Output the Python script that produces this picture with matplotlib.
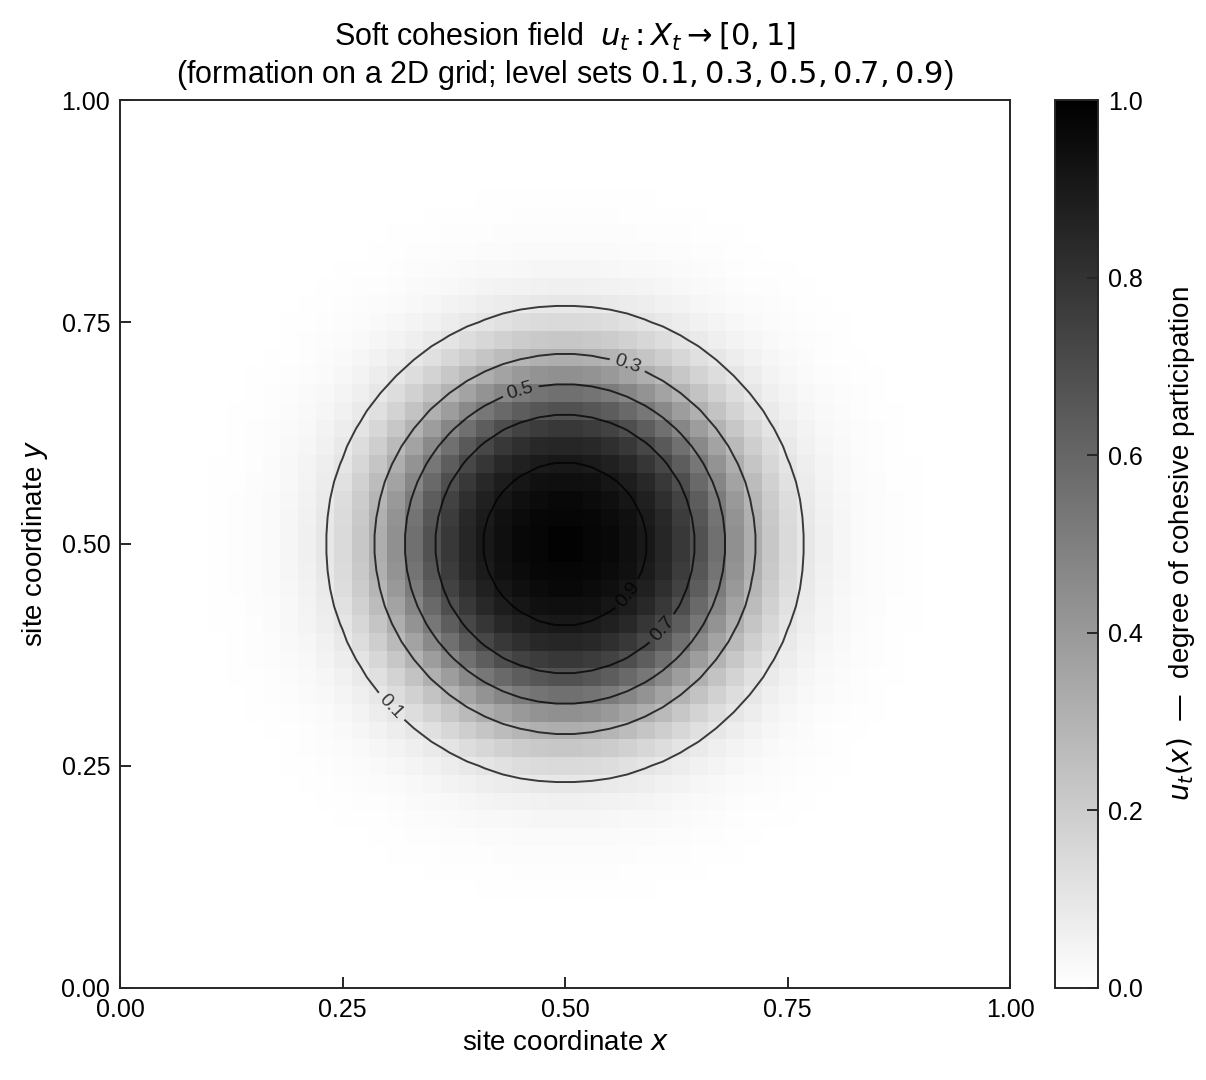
import numpy as np
import matplotlib
matplotlib.use("Agg")
import matplotlib.pyplot as plt

plt.rcParams['font.family'] = ['Liberation Sans', 'DejaVu Sans']
plt.rcParams['mathtext.fontset'] = 'dejavusans'

# field parameters (logistic profile around a centre)
n_cells = 50
centre = (0.5, 0.5)
half_radius = 0.18     # radius where u = 0.5
edge_width = 0.04      # softness of the edge
levels = [0.1, 0.3, 0.5, 0.7, 0.9]
xticks = [0.0, 0.25, 0.5, 0.75, 1.0]
cbar_ticks = [0.0, 0.2, 0.4, 0.6, 0.8, 1.0]

# label spots for the contour lines (data coords)
label_spots = [(0.306, 0.318), (0.571, 0.704), (0.449, 0.676), (0.609, 0.405), (0.570, 0.444)]

xs = (np.arange(n_cells) + 0.5) / n_cells
X, Y = np.meshgrid(xs, xs)
r = np.sqrt((X - centre[0])**2 + (Y - centre[1])**2)
u = 1.0 / (1.0 + np.exp((r - half_radius) / edge_width))

fig = plt.figure(figsize=(6.03, 5.4), dpi=200)
ax = fig.add_axes([0.0995, 0.0852, 0.738, 0.8222])
cax = fig.add_axes([0.8748, 0.0852, 0.0357, 0.8222])

im = ax.imshow(u, origin='lower', extent=[0, 1, 0, 1], cmap='gray_r',
               vmin=0, vmax=1, interpolation='nearest', aspect='auto')
cs = ax.contour(X, Y, u, levels=levels, colors='k', linewidths=0.7, alpha=0.75)
ax.clabel(cs, fmt='%.1f', fontsize=7, inline=True, manual=label_spots)

ax.set_xlim(0, 1)
ax.set_ylim(0, 1)
ax.set_xticks(xticks)
ax.set_yticks(xticks)
ax.set_xticklabels(['%.2f' % t for t in xticks])
ax.set_yticklabels(['%.2f' % t for t in xticks])
ax.tick_params(direction='in', labelsize=9, length=4, width=0.7, color='0.15')
for s in ax.spines.values():
    s.set_linewidth(0.7)
    s.set_color('0.15')

ax.set_xlabel('site coordinate $x$', fontsize=10, labelpad=3)
ax.set_ylabel('site coordinate $y$', fontsize=10, labelpad=4)
ax.set_title('Soft cohesion field  $u_t : X_t \\to [0, 1]$\n'
             '(formation on a 2D grid; level sets $0.1, 0.3, 0.5, 0.7, 0.9$)',
             fontsize=11, pad=6)

cb = fig.colorbar(im, cax=cax, ticks=cbar_ticks)
cb.ax.tick_params(direction='in', labelsize=9, length=4, width=0.7, color='0.15')
cb.outline.set_linewidth(0.7)
cb.outline.set_edgecolor('0.15')
cb.set_label('$u_t(x)$  —  degree of cohesive participation', fontsize=10, labelpad=8)

fig.savefig('out.png', dpi=200)
